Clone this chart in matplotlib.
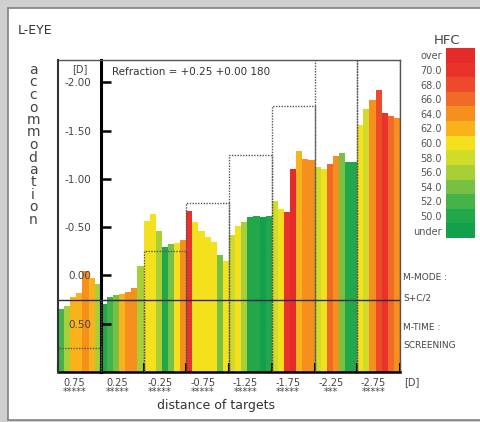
import matplotlib
matplotlib.use("Agg")
import matplotlib.pyplot as plt
from matplotlib.colors import ListedColormap, BoundaryNorm
from matplotlib.cm import ScalarMappable
from matplotlib.patches import Rectangle
from matplotlib.transforms import ScaledTranslation

# target distances [D] and what is printed under each group
targets = [0.75, 0.25, -0.25, -0.75, -1.25, -1.75, -2.25, -2.75]
target_labels = ["0.75", "0.25", "-0.25", "-0.75", "-1.25", "-1.75", "-2.25", "-2.75"]
n_marks = [5, 5, 5, 5, 5, 5, 3, 5]

# accommodation response per measurement, one row per target
accommodation = [
    [0.35, 0.32, 0.22, 0.18, -0.05, 0.03, 0.09],
    [0.30, 0.22, 0.20, 0.19, 0.17, 0.13, -0.10],
    [-0.56, -0.64, -0.46, -0.29, -0.32, -0.34, -0.37],
    [-0.67, -0.55, -0.46, -0.40, -0.35, -0.21, -0.15],
    [-0.42, -0.51, -0.55, -0.60, -0.61, -0.60, -0.62],
    [-0.77, -0.69, -0.66, -1.10, -1.29, -1.21, -1.19],
    [-1.12, -1.10, -1.15, -1.24, -1.27, -1.17, -1.17],
    [-1.56, -1.72, -1.82, -1.92, -1.68, -1.65, -1.63],
]
# high frequency component of each measurement
hfc = [
    [53, 57, 63, 63, 65, 63, 57],
    [51, 53, 55, 63, 65, 65, 57],
    [61, 61, 57, 51, 55, 61, 65],
    [71, 61, 61, 61, 61, 55, 61],
    [59, 61, 57, 51, 51, 49, 51],
    [59, 61, 71, 73, 63, 65, 65],
    [59, 61, 67, 65, 55, 51, 51],
    [61, 59, 65, 69, 71, 67, 65],
]
refraction = 0.25

hfc_bounds = list(range(48, 76, 2))
hfc_ticks = list(range(49, 75, 2))
hfc_ticklabels = ["under", "50.0", "52.0", "54.0", "56.0", "58.0", "60.0",
                  "62.0", "64.0", "66.0", "68.0", "70.0", "over"]
hfc_colors = ["#12a04b", "#22a84b", "#45b34a", "#78c043", "#a8cf38", "#d0db2a",
              "#f4e01c", "#f9b21a", "#f5901f", "#f06a28", "#ec4a2a", "#e8322a", "#e52a2a"]

W, H = 480, 422
def fx(px):
    return px / W
def fy(py):
    return 1 - py / H

fig = plt.figure(figsize=(4.8, 4.22), dpi=100, facecolor="#cfcfcf")
fig.patches.append(Rectangle((fx(8), fy(420)), fx(480), 412 / H, transform=fig.transFigure,
                             facecolor="white", edgecolor="#808080", lw=1.2, zorder=-10))

cmap = ListedColormap(hfc_colors)
norm = BoundaryNorm(hfc_bounds, cmap.N)

ax = fig.add_axes([fx(58), fy(372), (400 - 58) / W, (372 - 60) / H])
ax.set_xlim(-0.5, len(targets) - 0.5)
ax.set_ylim(1.0, -2.23)

n_bar = len(accommodation[0])
w = 1.0 / n_bar
for g, (vals, hs) in enumerate(zip(accommodation, hfc)):
    xs = [g - 0.5 + (j + 0.5) * w for j in range(len(vals))]
    heights = [v - 1.0 for v in vals]
    ax.bar(xs, heights, bottom=1.0, width=w, color=cmap(norm(hs)), linewidth=0, zorder=1)
    t = targets[g]
    ax.plot([g - 0.5, g - 0.5, g + 0.5, g + 0.5], [1.0, t, t, 1.0],
            ls=(0, (1, 1)), color="#555555", lw=1, zorder=3)

ax.axhline(refraction, color="#2b2b4f", lw=1, zorder=4)
ax.axvline(-0.5, color="#333333", lw=1.5, clip_on=False, zorder=5)

# y axis sits between first and second target
ax.spines["left"].set_position(("data", 0.5))
ax.spines["left"].set_linewidth(2.2)
ax.spines["bottom"].set_linewidth(1.8)
for s in ["top", "right"]:
    ax.spines[s].set_color("#555555")
    ax.spines[s].set_linewidth(1)
yt = [-2.0, -1.5, -1.0, -0.5, 0.0, 0.5]
ax.set_yticks(yt)
ax.set_yticklabels(["%.2f" % v for v in yt])
ax.tick_params(axis="y", direction="in", length=7.2, width=1.8, pad=6.5,
               labelsize=7.5, labelcolor="#444444")

ax.set_xticks(range(len(targets)))
ax.set_xticklabels([lab + "\n" + "*" * n for lab, n in zip(target_labels, n_marks)],
                   linespacing=0.95)
ax.set_xticks([g - 0.5 for g in range(len(targets) + 1)], minor=True)
ax.tick_params(axis="x", which="major", length=0, pad=4, labelsize=7, labelcolor="#444444")
ax.tick_params(axis="x", which="minor", direction="in", length=6.5, width=1.5)
for lab in ax.get_xticklabels():
    lab.set_transform(lab.get_transform() + ScaledTranslation(-0.05, 0, fig.dpi_scale_trans))

# colour scale
cax = fig.add_axes([fx(446), fy(238), 29 / W, 190 / H])
cb = fig.colorbar(ScalarMappable(norm=norm, cmap=cmap), cax=cax, ticks=hfc_ticks)
cb.set_ticklabels(hfc_ticklabels)
cb.outline.set_visible(False)
cax.minorticks_off()
cax.yaxis.set_ticks_position("left")
cax.tick_params(which="both", length=0, left=False, right=False, labelleft=True,
                labelright=False, pad=3, labelsize=7, labelcolor="#555555")

# texts
fig.text(fx(18), fy(30), "L-EYE", fontsize=9, color="#333333", va="center")
for i, ch in enumerate("accommodation"):
    fig.text(fx(33), fy(70 + i * 12.5), ch, fontsize=10, color="#444444",
             ha="center", va="center")
fig.text(fx(447), fy(40), "HFC", fontsize=9.5, color="#444444", ha="center", va="center")
fig.text(fx(79.5), fy(69), "[D]", fontsize=7, color="#444444", ha="center", va="center")
fig.text(fx(112), fy(72), "Refraction = +0.25 +0.00 180", fontsize=7.5, color="#333333",
         va="center")
fig.text(fx(404), fy(382), "[D]", fontsize=7, color="#444444", va="center")
fig.text(fx(216), fy(405), "distance of targets", fontsize=9, color="#333333",
         ha="center", va="center")
for yy, s in [(278, "M-MODE :"), (298, "S+C/2"), (327, "M-TIME :"), (346, "SCREENING")]:
    fig.text(fx(403), fy(yy), s, fontsize=6.5, color="#444444", va="center")

fig.savefig("out.png", dpi=100, facecolor=fig.get_facecolor())
